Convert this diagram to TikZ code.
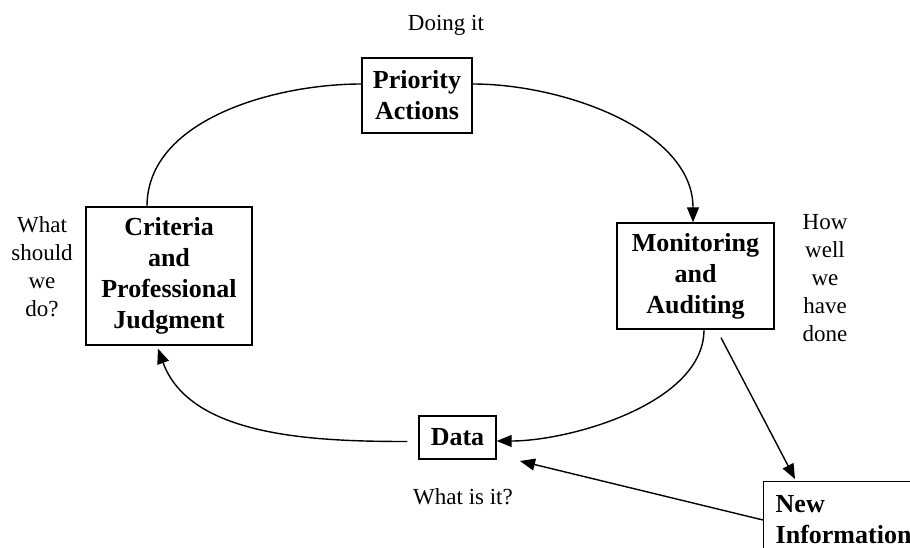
\documentclass[tikz,border=0pt]{standalone}
\usepackage{fontspec}
\setmainfont{Liberation Serif}
\usetikzlibrary{arrows.meta}
\begin{document}
\begin{tikzpicture}[x=1pt,y=-1pt,
  box/.style={draw,line width=1.4pt,align=center,inner sep=0pt,
    font=\fontsize{26}{31}\selectfont\bfseries},
  lbl/.style={align=center,inner sep=0pt,font=\fontsize{23}{28}\selectfont},
  conn/.style={line width=1.4pt},
  arr/.style={conn,-{Triangle[length=15pt,width=12pt]}}]
\useasboundingbox (0,0) rectangle (910,548);
\clip (0,0) rectangle (910,548);
% boxes
\node[box,minimum width=110,minimum height=75] (pa) at (417,95.5) {Priority\\Actions};
\node[box,minimum width=157,minimum height=106] (ma) at (695.5,276) {Monitoring\\and\\Auditing};
\node[box,minimum width=166,minimum height=138] (cj) at (169,276) {Criteria\\and\\Professional\\Judgment};
\node[box,minimum width=77,minimum height=43] (da) at (457.5,437.5) {Data};
\node[box,anchor=north west,align=left,inner xsep=12pt,minimum height=75] (ni) at (763,481) {New\\Information};
% labels
\node[lbl] (l1) at (446,25) {Doing it};
\node[lbl] (l2) at (42,267) {What\\should\\we\\do?};
\node[lbl] (l3) at (825,278) {How\\well\\we\\have\\done};
\node[lbl] (l4) at (463,497) {What is it?};
% connectors
\draw[conn] ([xshift=-22pt]cj.north) to[out=90,in=180,looseness=0.9] ([yshift=11.5pt]pa.west);
\draw[arr] ([yshift=11.5pt]pa.east) to[out=0,in=90,looseness=0.9] ([xshift=-2.5pt]ma.north);
\draw[arr] ([xshift=8.5pt]ma.south) to[out=-90,in=0,looseness=0.8] ([yshift=-3.5pt]da.east);
\draw[arr] ([xshift=-11pt,yshift=-4pt]da.west) to[out=180,in=-70,looseness=0.9] ([xshift=-11pt,yshift=-3pt]cj.south);
\coordinate (m1) at ([xshift=25.5pt,yshift=-8pt]ma.south);
\draw[arr] (m1) -- ([xshift=32pt,yshift=2pt]ni.north west);
\coordinate (dd) at (520,461);
\draw[arr] ([yshift=-39pt]ni.north west) -- (dd);
\end{tikzpicture}
\end{document}
